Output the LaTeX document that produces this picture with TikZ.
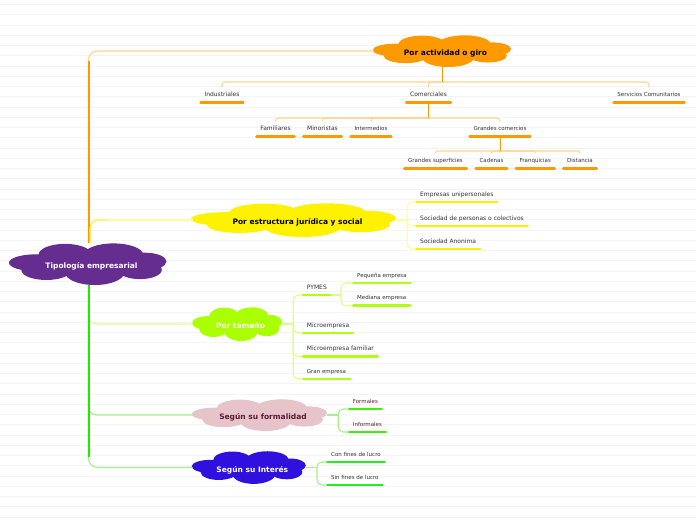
\documentclass[tikz,border=0pt]{standalone}
\usepackage{fontspec}
\setmainfont{DejaVu Sans}
\usetikzlibrary{calc}
\definecolor{orng}{HTML}{FF9900}
\definecolor{orngl}{HTML}{FFD591}
\definecolor{ylw}{HTML}{FFF200}
\definecolor{ylwbar}{HTML}{FFEE00}
\definecolor{ylwmid}{HTML}{FFF030}
\definecolor{ylwl}{HTML}{FFFF99}
\definecolor{limec}{HTML}{AAFF00}
\definecolor{limebar}{HTML}{B0FF10}
\definecolor{limel}{HTML}{D9FF8C}
\definecolor{purp}{HTML}{662D91}
\definecolor{pinkc}{HTML}{E6C4CA}
\definecolor{maroonc}{HTML}{5E1A36}
\definecolor{bluec}{HTML}{3010DE}
\definecolor{grn}{HTML}{22E800}
\definecolor{grnl}{HTML}{A6F08C}
\definecolor{grnbar}{HTML}{44EE00}
\definecolor{grnbarb}{HTML}{22EE22}
\definecolor{txt}{HTML}{333333}
\definecolor{rulec}{HTML}{F4F4F4}
\tikzset{
  cloudbox/.style={shape=rectangle, inner sep=0pt, draw=none, font=\fontsize{7.5}{9}\selectfont\bfseries},
  leaf/.style={inner xsep=5pt, inner ysep=4.6pt, text height=4.4pt, text depth=1.2pt, text=txt, font=\fontsize{6}{7}\selectfont,
     append after command={([xshift=1.3pt]\tikzlastnode.south west) edge[line width=2.6pt, line cap=round, draw=#1] ([xshift=-1.3pt]\tikzlastnode.south east)}},
  sleaf/.style={leaf=#1, font=\fontsize{5.5}{6.5}\selectfont},
  conn/.style={draw=#1, line width=1.1pt, rounded corners=3pt},
  brk/.style={draw=#1, line width=1.1pt, rounded corners=5pt},
}
% name, x, y, width, height, fill, text colour, text
\newcommand\mkcloud[8]{%
  \begin{scope}[shift={(#2,#3)}, xscale=#4/100, yscale=#5/100]
    \fill[#6] (0,0) ellipse [x radius=40, y radius=30]
      (-15,-22) ellipse [x radius=17, y radius=26]
      (16,-22) ellipse [x radius=19, y radius=27]
      (-34,-3) ellipse [x radius=17, y radius=20]
      (36,-6) ellipse [x radius=14, y radius=21]
      (-27,15) ellipse [x radius=16, y radius=23]
      (4,20) ellipse [x radius=19, y radius=30]
      (33,14) ellipse [x radius=14, y radius=22];
  \end{scope}
  \node[cloudbox, minimum width=#4pt, minimum height=#5pt, text=#7] (#1) at (#2,#3) {\hspace*{6pt}\raisebox{-4.6pt}[0pt][0pt]{#8}};
}
\begin{document}
\begin{tikzpicture}[x=1pt,y=-1pt]
\useasboundingbox (0,0) rectangle (696,520);
\fill[white] (0,0) rectangle (696,520);
\foreach \k in {0,...,50} \draw[rulec, line width=0.6pt] (0,4.3+10.25*\k) -- (696,4.3+10.25*\k);

% clouds
\mkcloud{root}{88.5}{264}{156}{42}{purp}{white}{Tipología empresarial}
\mkcloud{act}{442.5}{51}{137}{32}{orng}{black}{Por actividad o giro}
\mkcloud{est}{294.5}{220}{203}{34}{ylw}{black}{Por estructura jurídica y social}
\mkcloud{tam}{237.5}{324}{89}{34}{limec}{white}{Por tamaño}
\mkcloud{form}{260}{415}{134}{32}{pinkc}{maroonc}{Según su formalidad}
\mkcloud{cint}{249.3}{467.4}{113}{33}{bluec}{white}{Según su Interés}

% trunk connectors
\draw[orngl, line width=1.2pt, rounded corners=9pt] (root.north) |- (act.west);
\draw[orng, line width=2pt] (root.north) -- ($(root.north |- act.west)+(0,10)$);
\draw[ylwmid, line width=1.2pt, rounded corners=8pt] ([xshift=1.5pt]root.north) |- (est.west);
\draw[ylwl, line width=1.2pt] ($(est.west)+(-85,0)$) -- (est.west);
\draw[limel, line width=1.2pt, rounded corners=8pt] (root.south) |- (tam.west);
\draw[grnl, line width=1.2pt, rounded corners=8pt] (root.south) |- (form.west);
\draw[grnl, line width=1.2pt, rounded corners=9pt] (root.south) |- (cint.west);
\draw[grn, line width=2pt] (root.south) -- ($(root.south |- cint.west)+(0,-10)$);

% orange subtree
\node[leaf=orng, anchor=south] (ind) at (222,102.5) {Industriales};
\node[leaf=orng, anchor=south] (com) at (428.5,102.5) {Comerciales};
\node[sleaf=orng, anchor=south] (serv) at (649,102.5) {Servicios Comunitarios};
\node[leaf=orng, anchor=south] (fam) at (275.5,136.5) {Familiares};
\node[leaf=orng, anchor=south] (mino) at (322.5,136.5) {Minoristas};
\node[sleaf=orng, anchor=south] (intm) at (371,136.5) {Intermedios};
\node[sleaf=orng, anchor=south] (gc) at (500,136.5) {Grandes comercios};
\node[sleaf=orng, anchor=south] (gs) at (435.5,168.3) {Grandes superficies};
\node[sleaf=orng, anchor=south] (cad) at (491.5,168.3) {Cadenas};
\node[sleaf=orng, anchor=south] (fra) at (535.3,168.3) {Franquicias};
\node[sleaf=orng, anchor=south] (dis) at (580,168.3) {Distancia};

\coordinate (j1) at (act.south |- 0,82);
\foreach \n in {ind,com,serv} \draw[conn=orngl] (j1) -| (\n.north);
\draw[orng, line width=1pt] (act.south) -- (j1);
\coordinate (j2) at (com.south |- 0,118);
\foreach \n in {fam,mino,intm,gc} \draw[conn=orngl] (j2) -| (\n.north);
\draw[orng, line width=1pt] (com.south) -- (j2);
\coordinate (j3) at (gc.south |- 0,151);
\foreach \n in {gs,cad,fra,dis} \draw[conn=orngl, rounded corners=2pt] (j3) -| (\n.north);
\draw[orng, line width=1pt] (gc.south) -- (j3);

% yellow subtree
\node[leaf=ylwbar, anchor=south west] (emp) at (415,202) {Empresas unipersonales};
\node[leaf=ylwbar, anchor=south west] (soc) at (415,226) {Sociedad de personas o colectivos};
\node[leaf=ylwbar, anchor=south west] (sa) at (415,249) {Sociedad Anonima};
\coordinate (jy) at ($(est.east)+(11,0)$);
\draw[brk=ylwl] (est.east) -- (jy);
\foreach \n in {emp,soc,sa} \draw[brk=ylwl] (jy) |- (\n.south west);

% lime subtree
\node[leaf=limebar, anchor=south west] (pym) at (301.7,295) {PYMES};
\node[leaf=limebar, anchor=south west] (mic) at (301.7,333) {Microempresa};
\node[leaf=limebar, anchor=south west] (mif) at (301.7,356.7) {Microempresa familiar};
\node[sleaf=limebar, anchor=south west] (gra) at (301.7,379) {Gran empresa};
\node[sleaf=limebar, anchor=south west] (peq) at (352,283) {Pequeña empresa};
\node[sleaf=limebar, anchor=south west] (med) at (352,305.7) {Mediana empresa};
\coordinate (jl) at ($(tam.east)+(11,0)$);
\draw[brk=limel] (tam.east) -- (jl);
\foreach \n in {pym,mic,mif,gra} \draw[brk=limel] (jl) |- (\n.south west);
\coordinate (jp) at ($(pym.south east)+(9,0)$);
\draw[brk=limel] (pym.south east) -- (jp);
\foreach \n in {peq,med} \draw[brk=limel] (jp) |- (\n.south west);

% formalidad subtree
\node[sleaf=grnbar, anchor=south west, text=maroonc] (fml) at (347.7,409) {Formales};
\node[sleaf=grnbar, anchor=south west, text=maroonc] (ifml) at (347.7,432) {Informales};
\coordinate (jf) at ($(form.east)+(11,0)$);
\draw[brk=grnl] (form.east) -- (jf);
\foreach \n in {fml,ifml} \draw[brk=grnl] (jf) |- (\n.south west);

% interes subtree
\node[sleaf=grnbarb, anchor=south west] (con) at (326,462) {Con fines de lucro};
\node[sleaf=grnbarb, anchor=south west] (sin) at (326,485) {Sin fines de lucro};
\coordinate (jb) at ($(cint.east)+(11,0)$);
\draw[brk=grnl] (cint.east) -- (jb);
\foreach \n in {con,sin} \draw[brk=grnl] (jb) |- (\n.south west);
\end{tikzpicture}
\end{document}
